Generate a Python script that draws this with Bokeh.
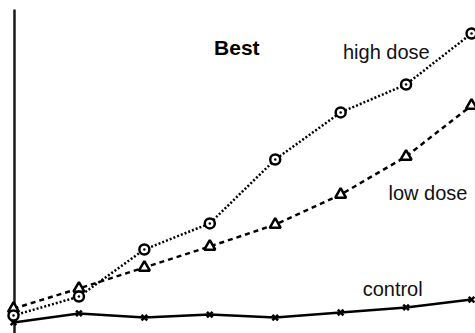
from bokeh.plotting import figure
from bokeh.models import Range1d
from bokeh.core.properties import value
from bokeh.embed import file_html
from bokeh.resources import INLINE

x = [0, 1, 2, 3, 4, 5, 6, 7]
control = [3.7, 6.7, 5.3, 6.3, 5.3, 7.0, 8.7, 11.3]
low_dose = [8.3, 15.0, 22.0, 29.0, 36.3, 46.3, 59.0, 76.0]
high_dose = [6.0, 12.3, 28.0, 36.7, 58.0, 73.7, 83.0, 100.0]

title_text = "Best"
series_labels = ["high dose", "low dose", "control"]

p = figure(width=475, height=333, output_backend="svg", toolbar_location=None,
           x_range=Range1d(-0.1987, 7.061), y_range=Range1d(0, 111.0),
           min_border=0)
p.axis.visible = False
p.grid.visible = False
p.outline_line_color = None

# left axis line
p.segment(x0=[0.015], y0=[-2], x1=[0.015], y1=[108], line_color="#1a1a1a", line_width=2.5)

# control
p.line(x, control, line_color="black", line_width=2.5)
p.scatter(x, control, marker="x", size=8, line_color="black", line_width=2.5)

# low dose
p.line(x, low_dose, line_color="black", line_width=2.5, line_dash="5 4")
p.scatter(x, low_dose, marker="triangle", size=11, line_color="black",
          fill_color="white", line_width=2.5)

# high dose
p.line(x, high_dose, line_color="black", line_width=2.5, line_dash="2 2")
p.scatter(x, high_dose, marker="circle_dot", size=10, line_color="black",
          fill_color="white", line_width=2.5)

font = value("Liberation Sans")
p.text([3.413], [95.4], text=[title_text], text_font=font, text_font_size="21px",
       text_font_style="bold", text_align="center", text_baseline="alphabetic", text_color="black")
p.text([5.698, 6.335, 5.795], [93.8, 46.8, 14.9], text=series_labels, text_font=font,
       text_font_size="20px", text_align="center", text_baseline="alphabetic", text_color="#111111")

open("out.html", "w").write(file_html(p, INLINE))
